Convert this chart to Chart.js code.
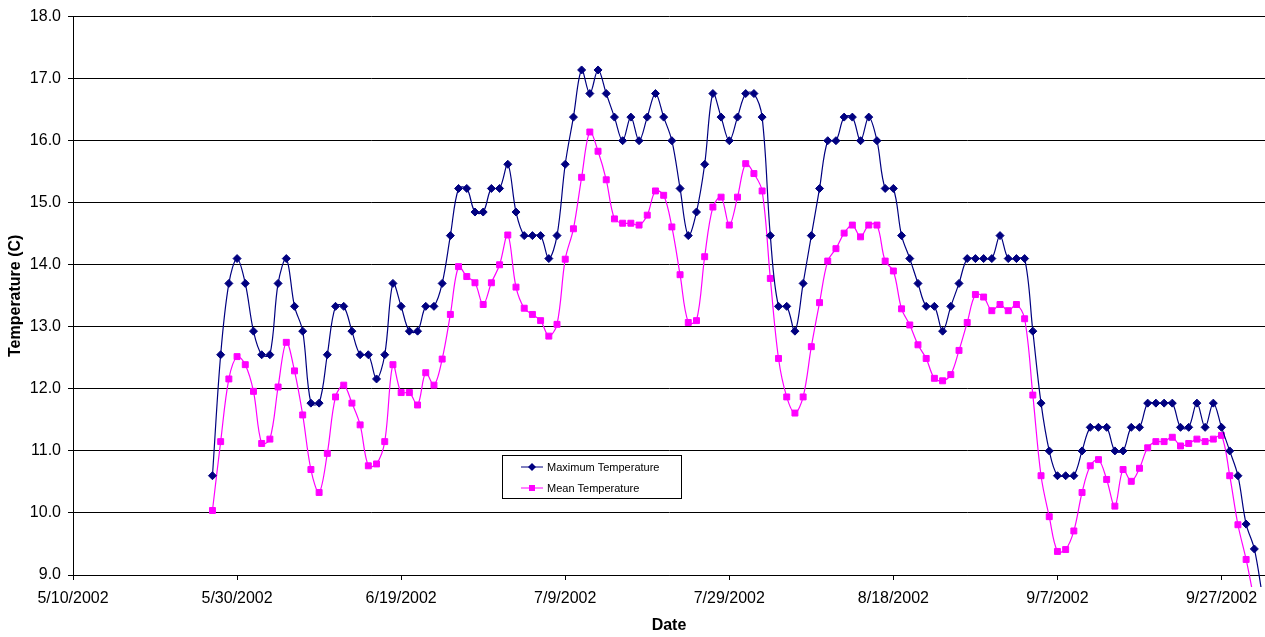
<!DOCTYPE html>
<html>
<head>
<meta charset="utf-8">
<title>Temperature</title>
<script src="https://cdn.jsdelivr.net/npm/chart.js@4/dist/chart.umd.min.js"></script>
<style>
  html, body { margin: 0; padding: 0; background: #fff; }
  canvas { display: block; }
</style>
</head>
<body>
<canvas id="grafico" width="1265" height="637"></canvas>
<script>
// x axis starts on 5/10/2002, one unit = one day
const axisStart = '5/10/2002';
const firstDate = '5/27/2002';
const tickLabels = ['5/10/2002', '5/30/2002', '6/19/2002', '7/9/2002', '7/29/2002', '8/18/2002', '9/7/2002', '9/27/2002'];

// daily values
const maxTemp = [
  10.60, 12.55, 13.70, 14.10, 13.70, 12.93, 12.55, 12.55, 13.70, 14.10,
  13.33, 12.93, 11.77, 11.77, 12.55, 13.33, 13.33, 12.93, 12.55, 12.55,
  12.16, 12.55, 13.70, 13.33, 12.93, 12.93, 13.33, 13.33, 13.70, 14.47,
  15.23, 15.23, 14.85, 14.85, 15.23, 15.23, 15.62, 14.85, 14.47, 14.47,
  14.47, 14.10, 14.47, 15.62, 16.38, 17.14, 16.76, 17.14, 16.76, 16.38,
  16.00, 16.38, 16.00, 16.38, 16.76, 16.38, 16.00, 15.23, 14.47, 14.85,
  15.62, 16.76, 16.38, 16.00, 16.38, 16.76, 16.76, 16.38, 14.47, 13.33,
  13.33, 12.93, 13.70, 14.47, 15.23, 16.00, 16.00, 16.38, 16.38, 16.00,
  16.38, 16.00, 15.23, 15.23, 14.47, 14.10, 13.70, 13.33, 13.33, 12.93,
  13.33, 13.70, 14.10, 14.10, 14.10, 14.10, 14.47, 14.10, 14.10, 14.10,
  12.93, 11.77, 11.00, 10.60, 10.60, 10.60, 11.00, 11.38, 11.38, 11.38,
  11.00, 11.00, 11.38, 11.38, 11.77, 11.77, 11.77, 11.77, 11.38, 11.38,
  11.77, 11.38, 11.77, 11.38, 11.00, 10.60, 9.82, 9.42, 8.65
];

const meanTemp = [
  10.04, 11.15, 12.16, 12.52, 12.39, 11.96, 11.12, 11.19, 12.03, 12.75,
  12.29, 11.58, 10.70, 10.33, 10.96, 11.87, 12.06, 11.77, 11.42, 10.76,
  10.79, 11.15, 12.39, 11.94, 11.94, 11.74, 12.26, 12.06, 12.48, 13.20,
  13.97, 13.81, 13.71, 13.36, 13.71, 14.00, 14.48, 13.64, 13.30, 13.20,
  13.10, 12.85, 13.04, 14.09, 14.58, 15.41, 16.14, 15.83, 15.37, 14.74,
  14.67, 14.67, 14.64, 14.80, 15.19, 15.12, 14.61, 13.84, 13.07, 13.10,
  14.13, 14.93, 15.09, 14.64, 15.09, 15.63, 15.47, 15.19, 13.78, 12.49,
  11.87, 11.61, 11.87, 12.68, 13.39, 14.06, 14.26, 14.51, 14.64, 14.45,
  14.64, 14.64, 14.06, 13.90, 13.29, 13.03, 12.71, 12.49, 12.17, 12.13,
  12.23, 12.62, 13.07, 13.52, 13.48, 13.26, 13.36, 13.26, 13.36, 13.13,
  11.90, 10.60, 9.94, 9.38, 9.41, 9.71, 10.33, 10.76, 10.86, 10.54,
  10.11, 10.70, 10.51, 10.72, 11.05, 11.15, 11.15, 11.22, 11.08, 11.12,
  11.19, 11.15, 11.19, 11.25, 10.60, 9.81, 9.25, 8.58
];

const fontFamily = "Arial, 'Liberation Sans', sans-serif";

function giorno(testo) {
  const p = testo.split('/').map(Number);
  return Date.UTC(p[2], p[0] - 1, p[1]) / 86400000;
}

function punti(valori) {
  const inizio = giorno(firstDate) - giorno(axisStart);
  return valori.map((v, i) => ({ x: inizio + i, y: v }));
}

// legend box drawn inside the plot, as in the original
const legendaInterna = {
  id: 'legendaInterna',
  afterDraw(chart) {
    const ctx = chart.ctx;
    const x0 = 502.5, y0 = 455.5, w = 179, h = 43;
    ctx.save();
    ctx.fillStyle = '#fff';
    ctx.fillRect(x0, y0, w, h);
    ctx.strokeStyle = '#000';
    ctx.lineWidth = 1;
    ctx.strokeRect(x0, y0, w, h);
    chart.data.datasets.forEach((ds, k) => {
      const y = 467 + k * 21;
      ctx.strokeStyle = ds.borderColor;
      ctx.lineWidth = 1;
      ctx.beginPath();
      ctx.moveTo(521, y);
      ctx.lineTo(543, y);
      ctx.stroke();
      ctx.fillStyle = ds.backgroundColor;
      ctx.beginPath();
      if (ds.pointStyle === 'rectRot') {
        ctx.moveTo(532, y - 4);
        ctx.lineTo(536, y);
        ctx.lineTo(532, y + 4);
        ctx.lineTo(528, y);
        ctx.closePath();
      } else {
        ctx.rect(529, y - 3, 6, 6);
      }
      ctx.fill();
      ctx.fillStyle = '#000';
      ctx.font = '11px ' + fontFamily;
      ctx.textBaseline = 'middle';
      ctx.textAlign = 'left';
      ctx.fillText(ds.label, 547, y + 0.5);
    });
    ctx.restore();
  }
};

const datiGrafico = {
  datasets: [
    {
      label: 'Maximum Temperature',
      data: punti(maxTemp),
      borderColor: '#000080',
      backgroundColor: '#000080',
      borderWidth: 1.2,
      pointStyle: 'rectRot',
      pointRadius: 4,
      pointBorderWidth: 1,
      tension: 0.35,
      clip: { left: 0, top: 0, right: 0, bottom: 12 }
    },
    {
      label: 'Mean Temperature',
      data: punti(meanTemp),
      borderColor: '#ff00ff',
      backgroundColor: '#ff00ff',
      borderWidth: 1.2,
      pointStyle: 'rect',
      pointRadius: 4.2,
      pointBorderWidth: 1,
      tension: 0.35,
      clip: { left: 0, top: 0, right: 0, bottom: 12 }
    }
  ]
};

const config = {
  type: 'line',
  data: datiGrafico,
  options: {
    responsive: false,
    animation: false,
    devicePixelRatio: 1,
    layout: { autoPadding: false, padding: { top: 15, right: 0, left: 0, bottom: 0 } },
    plugins: {
      legend: { display: false },
      tooltip: { enabled: false }
    },
    scales: {
      x: {
        type: 'linear',
        min: 0,
        max: 145.3,
        afterFit: s => { s.height = 62; s.paddingLeft = 0; s.paddingRight = 0; },
        grid: { drawOnChartArea: false, drawTicks: true, tickLength: 5, color: '#000' },
        border: { color: '#000', width: 1 },
        ticks: {
          stepSize: 20,
          includeBounds: false,
          autoSkip: false,
          maxRotation: 0,
          padding: 9,
          color: '#000',
          font: { family: fontFamily, size: 16 },
          callback: v => tickLabels[Math.round(v / 20)]
        },
        title: {
          display: true,
          text: 'Date',
          color: '#000',
          padding: { top: 0, bottom: 2 },
          font: { family: fontFamily, size: 16, weight: 'bold' }
        }
      },
      y: {
        min: 9,
        max: 18,
        afterFit: s => { s.width = 73; },
        grid: { color: '#000', lineWidth: 1, drawTicks: true, tickLength: 5 },
        border: { color: '#000', width: 1 },
        ticks: {
          stepSize: 1,
          padding: 7,
          color: '#000',
          font: { family: fontFamily, size: 16 },
          callback: v => v.toFixed(1)
        },
        title: {
          display: true,
          text: 'Temperature (C)',
          color: '#000',
          padding: { top: 6, bottom: 0 },
          font: { family: fontFamily, size: 16, weight: 'bold' }
        }
      }
    }
  },
  plugins: [legendaInterna]
};

const canvasElement = document.getElementById('grafico');
if (canvasElement) {
  new Chart(canvasElement.getContext('2d'), config);
}
</script>
</body>
</html>
